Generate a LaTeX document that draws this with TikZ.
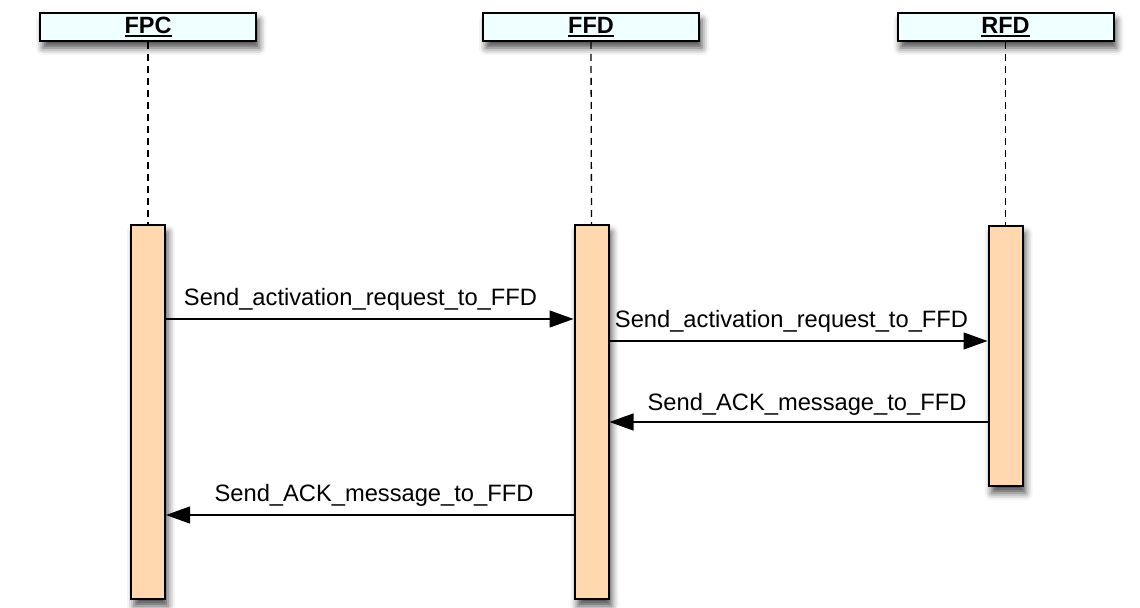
\documentclass[tikz,border=0pt]{standalone}
\usepackage{fontspec}
\setmainfont{Liberation Sans}
\usetikzlibrary{arrows.meta,shadows.blur}
\definecolor{headfill}{RGB}{240,255,255}
\definecolor{barfill}{RGB}{255,216,176}
\newcommand\myul[1]{{\fontsize{23.5bp}{26bp}\selectfont\bfseries\setbox0\hbox{#1}\rlap{\rule[-3.5bp]{\wd0}{2.2bp}}\box0}}
\tikzset{
  head/.style={draw=black, line width=2bp, fill=headfill, minimum width=216bp, minimum height=28bp,
    inner sep=0pt,
    blur shadow={shadow xshift=3bp, shadow yshift=-7bp, shadow blur radius=7bp, shadow opacity=70}},
  actbar/.style={draw=black, line width=2bp, fill=barfill, minimum width=34bp, inner sep=0pt,
    blur shadow={shadow xshift=3bp, shadow yshift=-7bp, shadow blur radius=7bp, shadow opacity=70}},
  life/.style={dashed, dash pattern=on 7bp off 5bp, line width=1.3bp},
  msg/.style={line width=1.3bp, -{Triangle[length=24bp,width=17bp]}},
  lbl/.style={anchor=base, inner sep=0pt, font=\fontsize{23.7bp}{28bp}\selectfont}
}
\begin{document}
\begin{tikzpicture}[x=1bp,y=-1bp]
\useasboundingbox (0,0) rectangle (1140,608);
% headers
\node[head] (fpc) at (148,27) {\myul{FPC}};
\node[head] (ffd) at (591,27) {\myul{FFD}};
\node[head] (rfd) at (1005.5,27) {\myul{RFD}};
% activation bars
\node[actbar, minimum height=374bp] (fpcbar) at (148,412) {};
\node[actbar, minimum height=374bp] (ffdbar) at (591.5,412) {};
\node[actbar, minimum height=260bp] (rfdbar) at (1005.5,356) {};
% lifelines
\draw[life] (fpc.south) -- (fpcbar.north);
\draw[life] (ffd.south) -- (ffdbar.north);
\draw[life] (rfd.south) -- (rfdbar.north);
% message levels
\coordinate (m1) at (0,319);
\coordinate (m2) at (0,341);
\coordinate (m3) at (0,422);
\coordinate (m4) at (0,515);
% messages
\draw[msg] (fpcbar.east |- m1) -- (ffdbar.west |- m1);
\draw[msg] (ffdbar.east |- m2) -- (rfdbar.west |- m2);
\draw[msg] (rfdbar.west |- m3) -- (ffdbar.east |- m3);
\draw[msg] (ffdbar.west |- m4) -- (fpcbar.east |- m4);
% labels
\node[lbl] (l1) at (360.5,306) {Send\_activation\_request\_to\_FFD};
\node[lbl] (l2) at (791.5,328) {Send\_activation\_request\_to\_FFD};
\node[lbl] (l3) at (807,410) {Send\_ACK\_message\_to\_FFD};
\node[lbl] (l4) at (374,501) {Send\_ACK\_message\_to\_FFD};
\end{tikzpicture}
\end{document}
